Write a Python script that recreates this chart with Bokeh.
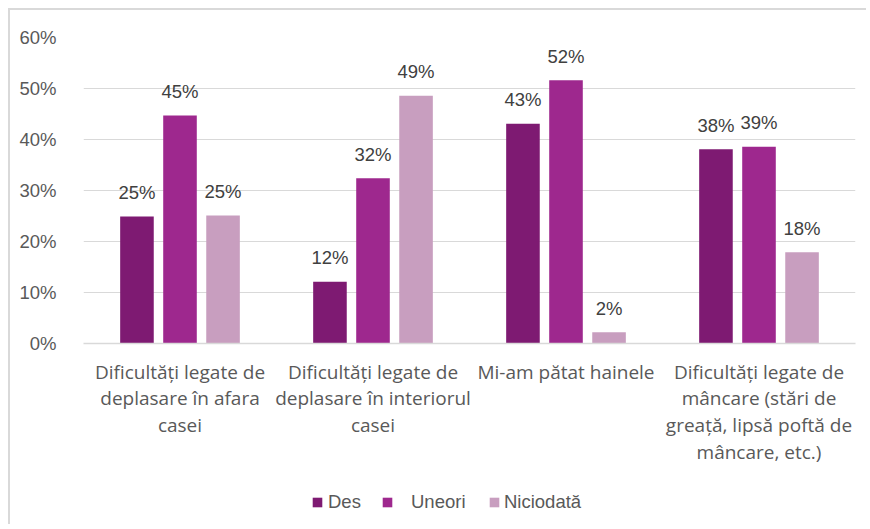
from bokeh.plotting import figure
from bokeh.layouts import column
from bokeh.models import FactorRange, Range1d, FixedTicker, Legend, LegendItem, ColumnDataSource
from bokeh.transform import dodge
from bokeh.core.properties import value
from bokeh.embed import file_html
from bokeh.resources import INLINE

categories = [
    "Dificultăți legate de\ndeplasare în afara\ncasei",
    "Dificultăți legate de\ndeplasare în interiorul\ncasei",
    "Mi-am pătat hainele",
    "Dificultăți legate de\nmâncare (stări de\ngreață, lipsă poftă de\nmâncare, etc.)",
]
series = ["Des", "Uneori", "Niciodată"]
des = [24.9, 12.1, 43.1, 38.1]
uneori = [44.7, 32.4, 51.6, 38.6]
niciodata = [25.1, 48.6, 2.2, 17.9]
colors = ["#7E1A72", "#9E288E", "#C89EBF"]
y_ticks = [0, 10, 20, 30, 40, 50, 60]
y_tick_labels = ["0%", "10%", "20%", "30%", "40%", "50%", "60%"]

values = [des, uneori, niciodata]
offsets = [-0.223, 0.0, 0.223]

p = figure(
    width=858, height=470,
    x_range=FactorRange(*categories, range_padding=0),
    y_range=Range1d(0, 60),
    output_backend="svg", toolbar_location=None,
    min_border_left=73, min_border_right=13, min_border_top=27, min_border_bottom=137,
)
p.styles = {"border-left": "2px solid #d9d9d9", "border-top": "2px solid #d9d9d9"}
p.outline_line_color = None
p.background_fill_color = "white"
p.border_fill_color = "white"

for name, vals, off, col in zip(series, values, offsets, colors):
    src = ColumnDataSource(dict(
        x=categories, top=vals,
        label=[f"{int(v + 0.5)}%" for v in vals],
    ))
    p.vbar(x=dodge("x", off, range=p.x_range), top="top", width=0.174, source=src,
           fill_color=col, line_color=None)
    p.text(x=dodge("x", off, range=p.x_range), y="top", text="label", source=src,
           text_align="center", text_baseline="alphabetic", y_offset=-24,
           text_font=value("Liberation Sans"), text_font_size="18.5px", text_color="#404040")

# grid
p.xgrid.grid_line_color = None
p.ygrid.ticker = FixedTicker(ticks=y_ticks)
p.ygrid.grid_line_color = "#d9d9d9"
p.ygrid.grid_line_width = 1.2

# y axis
p.yaxis.ticker = FixedTicker(ticks=y_ticks)
p.yaxis.major_label_overrides = {t: l for t, l in zip(y_ticks, y_tick_labels)}
p.yaxis.axis_line_color = None
p.yaxis.major_tick_line_color = None
p.yaxis.minor_tick_line_color = None
p.yaxis.major_label_standoff = 21
p.yaxis.major_label_text_font = "Liberation Sans"
p.yaxis.major_label_text_font_size = "18.5px"
p.yaxis.major_label_text_color = "#595959"

# x axis
p.xaxis.axis_line_color = "#d9d9d9"
p.xaxis.axis_line_width = 1.5
p.xaxis.major_tick_line_color = None
p.xaxis.minor_tick_line_color = None
p.xaxis.major_label_standoff = 9
p.xaxis.major_label_text_font = "Open Sans"
p.xaxis.major_label_text_font_size = "19px"
p.xaxis.major_label_text_color = "#595959"
p.xaxis.major_label_text_line_height = 1.03

# legend strip
p2 = figure(width=858, height=46, x_range=Range1d(0, 1), y_range=Range1d(0, 1),
            output_backend="svg", toolbar_location=None,
            x_axis_location=None, y_axis_location=None,
            min_border_left=73, min_border_right=13, min_border_top=0, min_border_bottom=0)
p2.styles = {"border-left": "2px solid #d9d9d9"}
p2.outline_line_color = None
p2.xgrid.grid_line_color = None
p2.ygrid.grid_line_color = None

leg_x = [228, 298, 405]
leg_standoff = [5, 18, 4]
for name, col, lx, so in zip(series, colors, leg_x, leg_standoff):
    proxy = p2.vbar(x=[0.5], top=[0], bottom=[0], width=0.0, fill_color=col, line_color=None)
    lg = Legend(items=[LegendItem(label=name, renderers=[proxy])], location=(lx, 11),
                orientation="horizontal", glyph_width=12, glyph_height=12, label_standoff=so,
                padding=0, margin=0, spacing=0, label_height=12,
                border_line_color=None, background_fill_alpha=0,
                label_text_font="Liberation Sans", label_text_font_size="18.5px",
                label_text_color="#595959")
    p2.add_layout(lg, "center")

layout = column(p, p2, spacing=0)
layout.styles = {"margin-left": "8px", "margin-top": "8px"}

open("out.html", "w").write(file_html(layout, INLINE))
